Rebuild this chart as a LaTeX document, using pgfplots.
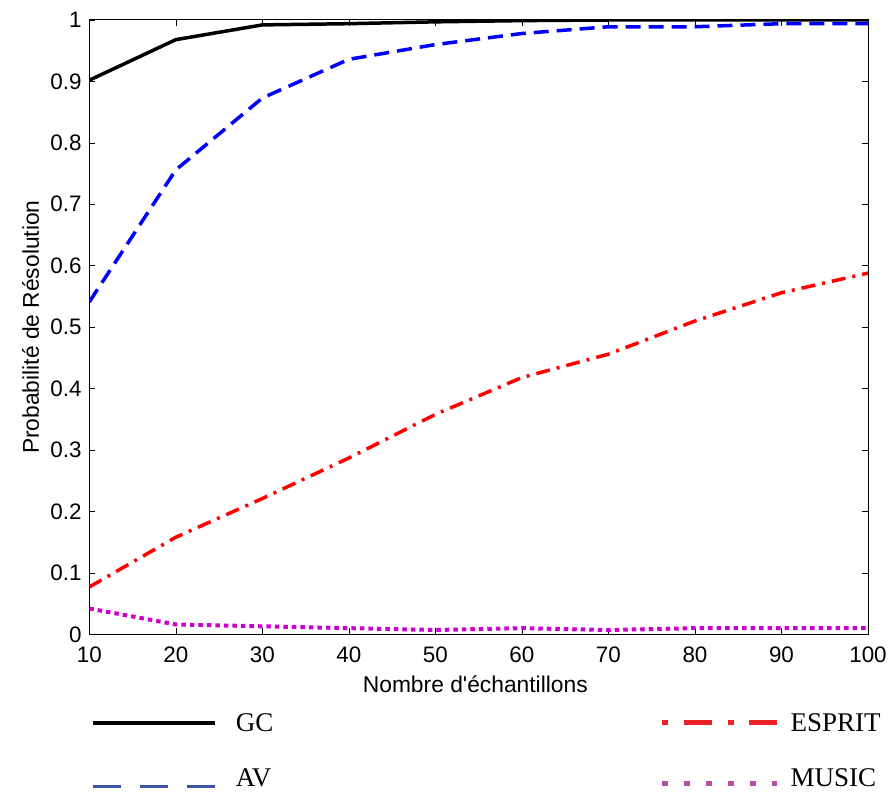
\documentclass[border=0pt]{standalone}
\usepackage{fontspec}
\setmainfont{Liberation Sans}
\newfontfamily\legfont{Liberation Serif}
\usepackage{pgfplots}
\pgfplotsset{compat=1.18}
\definecolor{avlegend}{RGB}{58,85,165}
\definecolor{esplegend}{RGB}{235,35,40}
\definecolor{muslegend}{RGB}{180,80,168}
\definecolor{musplot}{RGB}{204,0,204}
\pgfplotsset{
  legL/.style={legend image code/.code={\draw[##1] (0pt,0pt) -- (122pt,0pt);}},
  legR/.style={legend image code/.code={\draw[##1] (0pt,0pt) -- (115pt,0pt);}},
}
\begin{document}
\begin{tikzpicture}
\path[use as bounding box] (-89.3pt,-160.7pt) rectangle (801.7pt,634.3pt);
\begin{axis}[
  at={(0pt,0pt)}, anchor=south west,
  scale only axis, width=778.7pt, height=614.3pt,
  xmin=10, xmax=100, ymin=0, ymax=1,
  xtick={10,20,30,40,50,60,70,80,90,100},
  ytick={0,0.1,0.2,0.3,0.4,0.5,0.6,0.7,0.8,0.9,1},
  tick align=inside, major tick length=6pt,
  tick style={black, line width=0.6pt},
  axis line style={black, line width=1pt},
  /pgf/number format/assume math mode=true,
  ticklabel style={font=\fontsize{22.4}{26}\selectfont},
  xticklabel style={inner sep=0pt, anchor=north, yshift=-12.7pt},
  yticklabel style={inner sep=0pt, anchor=east, xshift=-7.6pt},
  xlabel={Nombre d\textquotesingle échantillons},
  ylabel={Probabilité de Résolution},
  label style={font=\fontsize{22.8}{26}\selectfont, inner sep=0pt},
  xlabel style={at={(axis description cs:0.4957,-0.0951)}, anchor=base},
  ylabel style={at={(axis description cs:-0.0642,0.5)}, anchor=south, rotate=0},
  legend columns=2,
  legend cell align=left,
  legend style={draw=none, fill=none, inner sep=0pt, outer sep=0pt,
    column sep=0pt, row sep=36pt, nodes={inner sep=0pt},
    at={(axis description cs:0.0022,-0.1286)}, anchor=north west,
    font=\legfont\fontsize{27}{30}\selectfont},
]
\addplot[forget plot, black, line width=3.5pt] coordinates {
(10,0.902) (20,0.968) (30,0.992) (40,0.994) (50,0.997) (60,0.999) (70,1) (80,1) (90,1) (100,1)};
\addplot[forget plot, blue, line width=3.5pt, dash pattern=on 15pt off 8pt] coordinates {
(10,0.541) (20,0.756) (30,0.873) (40,0.936) (50,0.960) (60,0.978) (70,0.989) (80,0.989) (90,0.994) (100,0.994)};
\addplot[forget plot, red, line width=3.5pt, dash pattern=on 14pt off 7pt on 3pt off 7pt] coordinates {
(10,0.077) (20,0.158) (30,0.221) (40,0.287) (50,0.358) (60,0.418) (70,0.456) (80,0.510) (90,0.556) (100,0.588)};
\addplot[forget plot, musplot, line width=4pt, dash pattern=on 4.5pt off 4pt] coordinates {
(10,0.042) (20,0.016) (30,0.013) (40,0.010) (50,0.007) (60,0.010) (70,0.007) (80,0.010) (90,0.010) (100,0.010)};
\addlegendimage{legL, black, line width=4.5pt}
\addlegendentry{\makebox[442pt][l]{\hspace*{18.4pt}GC}}
\addlegendimage{legR, esplegend, line width=5pt, dash pattern=on 6pt off 15.5pt on 28pt off 16pt}
\addlegendentry{\hspace*{11pt}ESPRIT}
\addlegendimage{legL, avlegend, line width=3.3pt, dash pattern=on 28pt off 19pt, yshift=-8pt}
\addlegendentry{\makebox[442pt][l]{\hspace*{18.4pt}AV}}
\addlegendimage{legR, muslegend, line width=5pt, dash pattern=on 6pt off 16pt, yshift=-5pt}
\addlegendentry{\hspace*{11pt}MUSIC}
\end{axis}
\end{tikzpicture}
\end{document}
